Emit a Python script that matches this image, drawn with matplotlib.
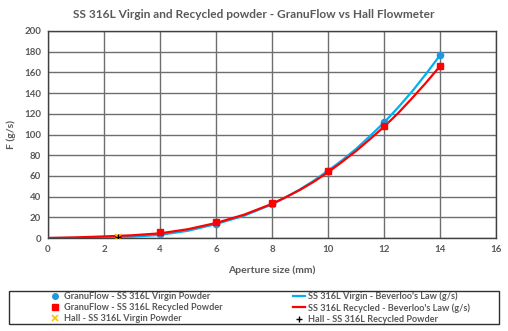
import numpy as np
import matplotlib
matplotlib.use("Agg")
import matplotlib.pyplot as plt
from matplotlib.lines import Line2D
from matplotlib.patches import Rectangle

plt.rcParams['font.family'] = ['Lato', 'DejaVu Sans']

# measured points (GranuFlow)
aperture = [4, 6, 8, 10, 12, 14]
granu_virgin = [4.0, 14.0, 33.0, 65.0, 112.0, 177.0]
granu_recycled = [5.5, 15.5, 33.5, 64.5, 108.5, 166.5]

# Hall flowmeter
hall_x = [2.5]
hall_virgin = [1.0]
hall_recycled = [1.0]

# Beverloo's law curves
bev_x = [0, 1, 2, 3, 4, 5, 6, 7, 8, 8.5, 9, 9.5, 10, 10.5, 11, 11.5, 12, 12.5, 13, 13.5, 14]
bev_virgin = [0.0, 0.1, 0.5, 1.2, 3.0, 7.0, 13.5, 21.5, 32.5, 39.5, 47.0, 55.5, 65.0, 75.0,
              86.0, 98.5, 111.5, 126.0, 141.5, 158.5, 176.5]
bev_recycled = [0.0, 0.6, 1.5, 2.6, 4.5, 8.5, 14.5, 22.5, 33.0, 39.5, 46.5, 54.5, 63.5, 73.5,
                84.0, 95.5, 107.5, 120.5, 135.0, 150.0, 166.0]

xticks = np.arange(0, 17, 2)
yticks = np.arange(0, 201, 20)

txt = '#595959'
blue_line = '#00B0F0'
blue_mark = '#1F97E0'
red = '#FF0000'

fig = plt.figure(figsize=(5.08, 3.31), dpi=100)
ax = fig.add_axes([48/508, 93/331, 448/508, 207/331])

ax.plot(bev_x, bev_virgin, color=blue_line, lw=1.6, zorder=3)
ax.plot(bev_x, bev_recycled, color=red, lw=1.6, zorder=4)
ax.plot(aperture, granu_virgin, 'o', color=blue_mark, ms=4.5, zorder=5)
ax.plot(aperture, granu_recycled, 's', color=red, ms=4.5, zorder=6)
ax.plot(hall_x, hall_virgin, 'x', color='#FFC000', ms=4.5, mew=1.2, zorder=7)
ax.plot(hall_x, hall_recycled, '+', color='black', ms=4.5, mew=1.0, zorder=7)

ax.set_xlim(0, 16)
ax.set_ylim(0, 200)
ax.set_xticks(xticks)
ax.set_yticks(yticks)
ax.grid(True, color='#6e6e6e', lw=1.0)
ax.set_axisbelow(True)
for s in ax.spines.values():
    s.set_color('#404040')
    s.set_linewidth(1.0)
ax.tick_params(length=0, labelsize=7, labelcolor=txt, pad=5)
for lab in ax.get_xticklabels() + ax.get_yticklabels():
    lab.set_fontweight('bold')

ax.set_xlabel('Aperture size (mm)', fontsize=7.5, fontweight='bold', color=txt, labelpad=8)
ax.set_ylabel('F (g/s)', fontsize=7.5, fontweight='bold', color=txt, labelpad=6)
fig.text(0.5, 0.955, 'SS 316L Virgin and Recycled powder - GranuFlow vs Hall Flowmeter',
         ha='center', va='center', fontsize=8.6, fontweight='bold', color=txt)

# legend box
fig.patches.append(Rectangle((9/508, 7/331), 490/508, 33/331, transform=fig.transFigure,
                             fill=False, edgecolor='#303030', lw=1.0))

h1 = [Line2D([], [], ls='', marker='o', color=blue_mark, ms=4),
      Line2D([], [], ls='', marker='s', color=red, ms=4),
      Line2D([], [], ls='', marker='x', color='#FFC000', ms=4, mew=1.2)]
l1 = ['GranuFlow - SS 316L Virgin Powder', 'GranuFlow - SS 316L Recycled Powder',
      'Hall - SS 316L Virgin Powder']
h2 = [Line2D([], [], color=blue_line, lw=1.6),
      Line2D([], [], color=red, lw=1.6),
      Line2D([], [], ls='', marker='+', color='black', ms=4, mew=1.0)]
l2 = ["SS 316L Virgin - Beverloo's Law (g/s)", "SS 316L Recycled - Beverloo's Law (g/s)",
      'Hall - SS 316L Recycled Powder']

kw = dict(frameon=False, fontsize=6.6, labelspacing=0.25, handlelength=1.4,
          handletextpad=0.3, borderpad=0, loc='center left', labelcolor=txt)
leg1 = fig.legend(h1, l1, bbox_to_anchor=(44/508, 23.5/331), **kw)
leg2 = fig.legend(h2, l2, bbox_to_anchor=(288/508, 23.5/331), **kw)
for leg in (leg1, leg2):
    for t in leg.get_texts():
        t.set_fontweight('bold')

fig.savefig('out.png', dpi=100)
